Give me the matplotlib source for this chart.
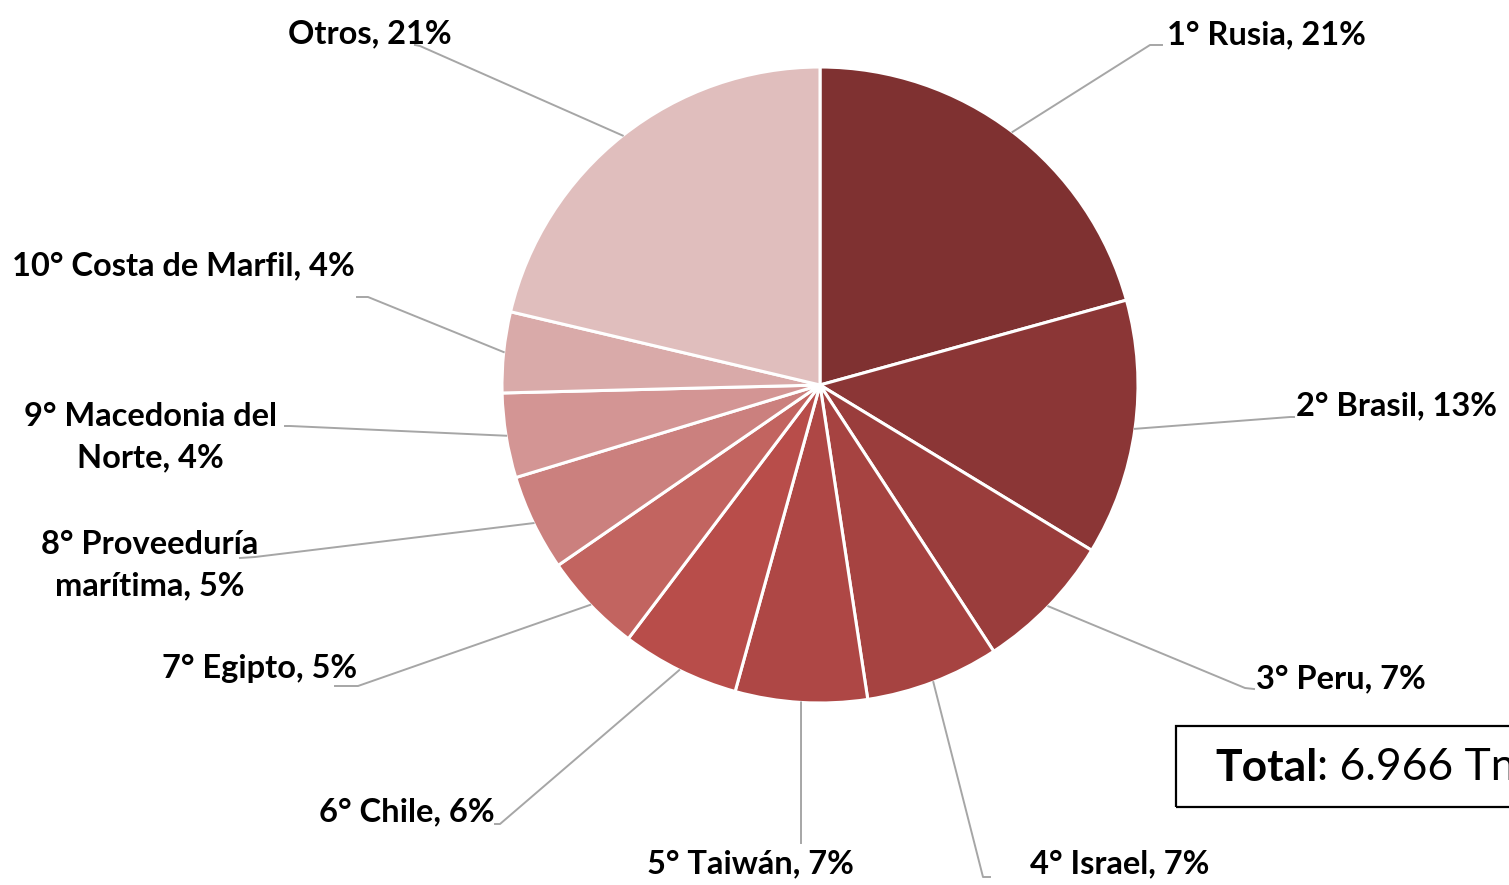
import numpy as np
import matplotlib.pyplot as plt
from matplotlib.patches import Rectangle

W, H = 1509, 885

paises = ["1° Rusia, 21%", "2° Brasil, 13%", "3° Peru, 7%", "4° Israel, 7%",
          "5° Taiwán, 7%", "6° Chile, 6%", "7° Egipto, 5%",
          "8° Proveeduría\nmarítima, 5%", "9° Macedonia del\nNorte, 4%",
          "10° Costa de Marfil, 4%", "Otros, 21%"]
shares = [20.7, 13.0, 7.1, 6.8, 6.7, 6.0, 5.1, 4.9, 4.3, 4.1, 21.3]
colores = ["#7F3131", "#8B3636", "#9A3D3C", "#A64341", "#AE4745", "#B84D4A",
           "#C26460", "#CB807E", "#D39594", "#D9AAA9", "#E0BEBD"]
total_txt = ": 6.966 Tn"

# label layout in pixel coords (x, y from top): text anchor, elbow, line end, alignment
layout = [
    ((1167, 35), (1150, 45), (1162, 45), "left"),
    ((1296, 406), (1290, 417), (1294, 417), "left"),
    ((1256, 679), (1245, 688), (1254, 689), "left"),
    ((1030, 864), (983, 877), (990, 877), "left"),
    ((750, 864), (801, 843), (801, 843), "center"),
    ((495, 812), (500, 824), (495, 824), "right"),
    ((357, 668), (358, 686), (335, 686), "right"),
    ((150, 565), (255, 557), (240, 558), "center"),
    ((150, 437), (290, 426), (285, 426), "center"),
    ((12, 266), (368, 297), (357, 297), "left"),
    ((288, 34), (420, 46), (415, 45), "left"),
]

plt.rcParams['font.family'] = ['Lato', 'DejaVu Sans']

fig = plt.figure(figsize=(W / 100, H / 100), dpi=100)
ax = fig.add_axes([0, 0, 1, 1])

cx, cy, r = 820, H - 385, 318
wedges, _ = ax.pie(shares, colors=colores, startangle=90, counterclock=False,
                   center=(cx, cy), radius=r, frame=True,
                   wedgeprops=dict(edgecolor='white', linewidth=2.2))
ax.set_xlim(0, W)
ax.set_ylim(0, H)
ax.set_aspect('equal')
ax.axis('off')

for w, lab, (tpos, elbow, end, ha) in zip(wedges, paises, layout):
    mid = np.deg2rad((w.theta1 + w.theta2) / 2)
    x0, y0 = cx + r * np.cos(mid), cy + r * np.sin(mid)
    ax.plot([x0, elbow[0], end[0]], [y0, H - elbow[1], H - end[1]],
            color='#A6A6A6', lw=1.4, zorder=1)
    ax.text(tpos[0], H - tpos[1], lab, ha=ha, va='center', fontsize=23.5,
            fontweight='bold', color='black', linespacing=1.5)

# total box, partly running off the right edge as in the source
ax.add_patch(Rectangle((1176, H - 807), 400, 81, fill=False, edgecolor='black',
                       lw=1.6, clip_on=False))
t1 = ax.text(1215, H - 768, "Total", fontsize=32, fontweight='bold',
             va='center', ha='left')
ax.annotate(total_txt, xy=(1, 0.5), xycoords=t1, va='center', ha='left',
            fontsize=32)

fig.savefig("out.png", dpi=100)
